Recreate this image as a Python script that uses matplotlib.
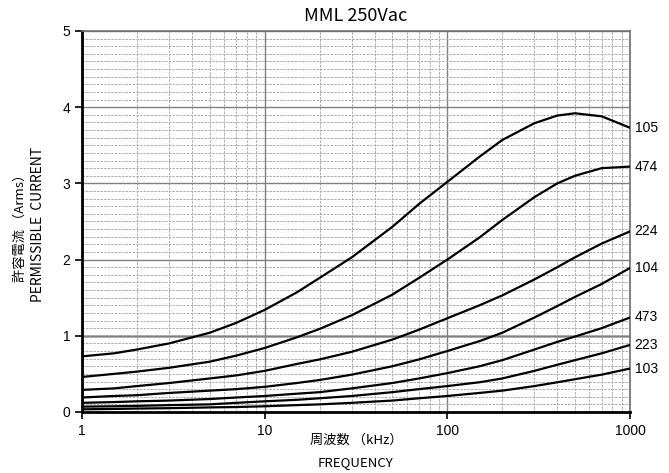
import numpy as np
import matplotlib.pyplot as plt
from matplotlib.ticker import FixedLocator, NullFormatter

plt.rcParams['font.family'] = ['Liberation Sans', 'DejaVu Sans']

freq = [1, 1.5, 2, 3, 5, 7, 10, 15, 20, 30, 50, 70, 100, 150, 200, 300, 400, 500, 700, 1000]  # kHz

# permissible current (Arms)
c105 = [0.73, 0.77, 0.82, 0.90, 1.04, 1.17, 1.34, 1.57, 1.76, 2.03, 2.43, 2.73, 3.02, 3.35, 3.57, 3.79, 3.89, 3.92, 3.88, 3.73]
c474 = [0.46, 0.50, 0.53, 0.58, 0.66, 0.74, 0.84, 0.98, 1.09, 1.27, 1.54, 1.76, 2.00, 2.29, 2.52, 2.82, 3.00, 3.10, 3.20, 3.22]
c224 = [0.29, 0.31, 0.34, 0.38, 0.44, 0.48, 0.54, 0.63, 0.69, 0.79, 0.95, 1.08, 1.23, 1.40, 1.53, 1.74, 1.90, 2.03, 2.21, 2.37]
c104 = [0.19, 0.21, 0.22, 0.25, 0.28, 0.30, 0.33, 0.38, 0.42, 0.49, 0.60, 0.69, 0.80, 0.93, 1.04, 1.24, 1.39, 1.51, 1.68, 1.89]
c473 = [0.12, 0.13, 0.14, 0.15, 0.17, 0.19, 0.21, 0.24, 0.26, 0.31, 0.38, 0.44, 0.51, 0.60, 0.68, 0.82, 0.92, 0.99, 1.10, 1.24]
c223 = [0.07, 0.075, 0.08, 0.09, 0.10, 0.12, 0.14, 0.16, 0.18, 0.21, 0.26, 0.30, 0.34, 0.39, 0.44, 0.54, 0.62, 0.68, 0.77, 0.88]
c103 = [0.035, 0.04, 0.045, 0.05, 0.06, 0.065, 0.075, 0.09, 0.10, 0.12, 0.15, 0.18, 0.21, 0.25, 0.28, 0.34, 0.39, 0.43, 0.49, 0.57]

names = ['105', '474', '224', '104', '473', '223', '103']
curves = [c105, c474, c224, c104, c473, c223, c103]

fig = plt.figure(figsize=(6.69, 4.73), dpi=100)
ax = fig.add_axes([0.1226, 0.129, 0.8191, 0.8055])

ax.set_xscale('log')
ax.set_xlim(1, 1000)
ax.set_ylim(0, 5)

# grid
ax.xaxis.set_minor_locator(FixedLocator([m * 10 ** d for d in range(3) for m in range(2, 10)]))
ax.xaxis.set_minor_formatter(NullFormatter())
ax.set_yticks(np.arange(0, 5.01, 1))
ax.set_yticks(np.arange(0, 5.01, 0.1), minor=True)
ax.grid(which='minor', axis='both', color='#ababab', linestyle=(0, (2.5, 1.2)), linewidth=0.7)
ax.grid(which='major', axis='both', color='#808080', linestyle='-', linewidth=1.0)
ax.axhline(1, color='#b0b0b0', linewidth=2.0, zorder=1.5)

for name, c in zip(names, curves):
    ax.plot(freq, c, color='black', linewidth=1.6, zorder=3)
    ax.text(1060, c[-1], name, fontsize=10, va='center', ha='left')

ax.set_xticks([1, 10, 100, 1000])
ax.set_xticklabels(['1', '10', '100', '1000'])
ax.tick_params(which='major', direction='out', length=5, width=1.2, labelsize=10)
ax.tick_params(which='minor', length=0)

for s in ['left', 'bottom']:
    ax.spines[s].set_linewidth(2.0)
    ax.spines[s].set_color('black')
for s in ['top', 'right']:
    ax.spines[s].set_linewidth(1.2)
    ax.spines[s].set_color('#707070')

jp = ['Noto Sans CJK JP', 'DejaVu Sans']
fig.text(0.532, 0.966, 'MML 250Vac', ha='center', va='center', fontsize=13, family=jp)
fig.text(0.532, 0.070, '周波数 （kHz）', ha='center', va='center', fontsize=9.5, family=jp)
fig.text(0.532, 0.023, 'FREQUENCY', ha='center', va='center', fontsize=9.5, family=jp)
fig.text(0.030, 0.525, '許容電流 （Arms）', rotation=90, ha='center', va='center', fontsize=9.5, family=jp)
fig.text(0.057, 0.525, 'PERMISSIBLE  CURRENT', rotation=90, ha='center', va='center', fontsize=10, family=jp)

plt.savefig('out.png', dpi=100)
